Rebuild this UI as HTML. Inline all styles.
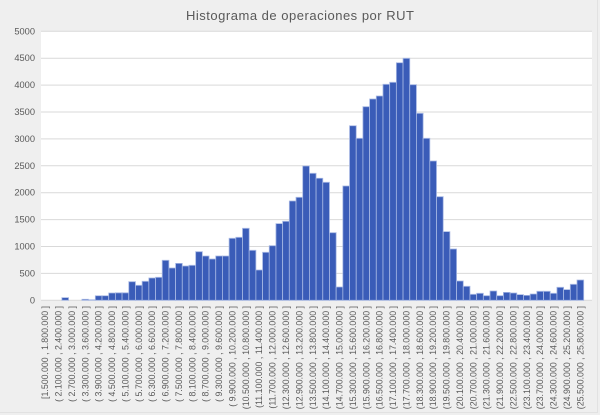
<!DOCTYPE html>
<html>
<head>
<meta charset="utf-8">
<style>
  html,body{margin:0;padding:0;background:#efefef;}
  svg{display:block;}
  .yl{font-family:"Liberation Sans",sans-serif;font-size:9.3px;fill:#595959;text-anchor:end;}
  .xl{font-family:"Liberation Sans",sans-serif;font-size:8.8px;fill:#595959;text-anchor:end;}
  .t{font-family:"Liberation Sans",sans-serif;font-size:13px;fill:#595959;text-anchor:middle;}
</style>
</head>
<body>
<svg width="600" height="415" viewBox="0 0 600 415" xmlns="http://www.w3.org/2000/svg">
  <rect x="0" y="0" width="600" height="415" fill="#efefef"/>
  <line x1="597.5" y1="0" x2="597.5" y2="413" stroke="#e2e2e2" stroke-width="1"/>
  <line x1="0" y1="412.5" x2="598" y2="412.5" stroke="#e2e2e2" stroke-width="1"/>

  <text class="t" x="300" y="20" textLength="228" lengthAdjust="spacing">Histograma de operaciones por RUT</text>

  <!-- plot area -->
  <rect x="41" y="31" width="551" height="269.5" fill="#ffffff"/>

  <!-- gridlines -->
  <g stroke="#d9d9d9" stroke-width="1">
    <line x1="41" y1="31.3" x2="592" y2="31.3"/>
    <line x1="41" y1="58.2" x2="592" y2="58.2"/>
    <line x1="41" y1="85.1" x2="592" y2="85.1"/>
    <line x1="41" y1="112.0" x2="592" y2="112.0"/>
    <line x1="41" y1="138.9" x2="592" y2="138.9"/>
    <line x1="41" y1="165.8" x2="592" y2="165.8"/>
    <line x1="41" y1="192.7" x2="592" y2="192.7"/>
    <line x1="41" y1="219.6" x2="592" y2="219.6"/>
    <line x1="41" y1="246.5" x2="592" y2="246.5"/>
    <line x1="41" y1="273.4" x2="592" y2="273.4"/>
    <line x1="41" y1="300.3" x2="592" y2="300.3"/>
  </g>

  <!-- y labels -->
  <text class="yl" x="35" y="303.3">0</text>
  <text class="yl" x="35" y="276.4">500</text>
  <text class="yl" x="35" y="249.5">1000</text>
  <text class="yl" x="35" y="222.6">1500</text>
  <text class="yl" x="35" y="195.7">2000</text>
  <text class="yl" x="35" y="168.8">2500</text>
  <text class="yl" x="35" y="141.9">3000</text>
  <text class="yl" x="35" y="115.0">3500</text>
  <text class="yl" x="35" y="88.1">4000</text>
  <text class="yl" x="35" y="61.2">4500</text>
  <text class="yl" x="35" y="34.3">5000</text>

  <!-- bars -->
  <g transform="translate(41.8,300.3) scale(6.69,-0.0538)" fill="#3a5cb8" stroke="#a7b8e4" stroke-width="0.8">
    <rect vector-effect="non-scaling-stroke" x="3" y="0" width="1" height="50"/>
    <rect vector-effect="non-scaling-stroke" x="6" y="0" width="1" height="20"/>
    <rect vector-effect="non-scaling-stroke" x="7" y="0" width="1" height="10" fill="#a9bbe6"/>
    <rect vector-effect="non-scaling-stroke" x="8" y="0" width="1" height="85"/>
    <rect vector-effect="non-scaling-stroke" x="9" y="0" width="1" height="85"/>
    <rect vector-effect="non-scaling-stroke" x="10" y="0" width="1" height="136"/>
    <rect vector-effect="non-scaling-stroke" x="11" y="0" width="1" height="139"/>
    <rect vector-effect="non-scaling-stroke" x="12" y="0" width="1" height="139"/>
    <rect vector-effect="non-scaling-stroke" x="13" y="0" width="1" height="346"/>
    <rect vector-effect="non-scaling-stroke" x="14" y="0" width="1" height="279"/>
    <rect vector-effect="non-scaling-stroke" x="15" y="0" width="1" height="353"/>
    <rect vector-effect="non-scaling-stroke" x="16" y="0" width="1" height="415"/>
    <rect vector-effect="non-scaling-stroke" x="17" y="0" width="1" height="427"/>
    <rect vector-effect="non-scaling-stroke" x="18" y="0" width="1" height="743"/>
    <rect vector-effect="non-scaling-stroke" x="19" y="0" width="1" height="600"/>
    <rect vector-effect="non-scaling-stroke" x="20" y="0" width="1" height="687"/>
    <rect vector-effect="non-scaling-stroke" x="21" y="0" width="1" height="637"/>
    <rect vector-effect="non-scaling-stroke" x="22" y="0" width="1" height="650"/>
    <rect vector-effect="non-scaling-stroke" x="23" y="0" width="1" height="904"/>
    <rect vector-effect="non-scaling-stroke" x="24" y="0" width="1" height="823"/>
    <rect vector-effect="non-scaling-stroke" x="25" y="0" width="1" height="767"/>
    <rect vector-effect="non-scaling-stroke" x="26" y="0" width="1" height="823"/>
    <rect vector-effect="non-scaling-stroke" x="27" y="0" width="1" height="823"/>
    <rect vector-effect="non-scaling-stroke" x="28" y="0" width="1" height="1152"/>
    <rect vector-effect="non-scaling-stroke" x="29" y="0" width="1" height="1171"/>
    <rect vector-effect="non-scaling-stroke" x="30" y="0" width="1" height="1338"/>
    <rect vector-effect="non-scaling-stroke" x="31" y="0" width="1" height="929"/>
    <rect vector-effect="non-scaling-stroke" x="32" y="0" width="1" height="563"/>
    <rect vector-effect="non-scaling-stroke" x="33" y="0" width="1" height="892"/>
    <rect vector-effect="non-scaling-stroke" x="34" y="0" width="1" height="1015"/>
    <rect vector-effect="non-scaling-stroke" x="35" y="0" width="1" height="1425"/>
    <rect vector-effect="non-scaling-stroke" x="36" y="0" width="1" height="1468"/>
    <rect vector-effect="non-scaling-stroke" x="37" y="0" width="1" height="1846"/>
    <rect vector-effect="non-scaling-stroke" x="38" y="0" width="1" height="1914"/>
    <rect vector-effect="non-scaling-stroke" x="39" y="0" width="1" height="2496"/>
    <rect vector-effect="non-scaling-stroke" x="40" y="0" width="1" height="2360"/>
    <rect vector-effect="non-scaling-stroke" x="41" y="0" width="1" height="2268"/>
    <rect vector-effect="non-scaling-stroke" x="42" y="0" width="1" height="2193"/>
    <rect vector-effect="non-scaling-stroke" x="43" y="0" width="1" height="1257"/>
    <rect vector-effect="non-scaling-stroke" x="44" y="0" width="1" height="247"/>
    <rect vector-effect="non-scaling-stroke" x="45" y="0" width="1" height="2125"/>
    <rect vector-effect="non-scaling-stroke" x="46" y="0" width="1" height="3245"/>
    <rect vector-effect="non-scaling-stroke" x="47" y="0" width="1" height="3011"/>
    <rect vector-effect="non-scaling-stroke" x="48" y="0" width="1" height="3599"/>
    <rect vector-effect="non-scaling-stroke" x="49" y="0" width="1" height="3742"/>
    <rect vector-effect="non-scaling-stroke" x="50" y="0" width="1" height="3797"/>
    <rect vector-effect="non-scaling-stroke" x="51" y="0" width="1" height="4015"/>
    <rect vector-effect="non-scaling-stroke" x="52" y="0" width="1" height="4052"/>
    <rect vector-effect="non-scaling-stroke" x="53" y="0" width="1" height="4416"/>
    <rect vector-effect="non-scaling-stroke" x="54" y="0" width="1" height="4498"/>
    <rect vector-effect="non-scaling-stroke" x="55" y="0" width="1" height="4008"/>
    <rect vector-effect="non-scaling-stroke" x="56" y="0" width="1" height="3476"/>
    <rect vector-effect="non-scaling-stroke" x="57" y="0" width="1" height="3011"/>
    <rect vector-effect="non-scaling-stroke" x="58" y="0" width="1" height="2589"/>
    <rect vector-effect="non-scaling-stroke" x="59" y="0" width="1" height="1926"/>
    <rect vector-effect="non-scaling-stroke" x="60" y="0" width="1" height="1276"/>
    <rect vector-effect="non-scaling-stroke" x="61" y="0" width="1" height="954"/>
    <rect vector-effect="non-scaling-stroke" x="62" y="0" width="1" height="359"/>
    <rect vector-effect="non-scaling-stroke" x="63" y="0" width="1" height="260"/>
    <rect vector-effect="non-scaling-stroke" x="64" y="0" width="1" height="111"/>
    <rect vector-effect="non-scaling-stroke" x="65" y="0" width="1" height="130"/>
    <rect vector-effect="non-scaling-stroke" x="66" y="0" width="1" height="86"/>
    <rect vector-effect="non-scaling-stroke" x="67" y="0" width="1" height="173"/>
    <rect vector-effect="non-scaling-stroke" x="68" y="0" width="1" height="86"/>
    <rect vector-effect="non-scaling-stroke" x="69" y="0" width="1" height="148"/>
    <rect vector-effect="non-scaling-stroke" x="70" y="0" width="1" height="136"/>
    <rect vector-effect="non-scaling-stroke" x="71" y="0" width="1" height="105"/>
    <rect vector-effect="non-scaling-stroke" x="72" y="0" width="1" height="92"/>
    <rect vector-effect="non-scaling-stroke" x="73" y="0" width="1" height="117"/>
    <rect vector-effect="non-scaling-stroke" x="74" y="0" width="1" height="167"/>
    <rect vector-effect="non-scaling-stroke" x="75" y="0" width="1" height="167"/>
    <rect vector-effect="non-scaling-stroke" x="76" y="0" width="1" height="130"/>
    <rect vector-effect="non-scaling-stroke" x="77" y="0" width="1" height="241"/>
    <rect vector-effect="non-scaling-stroke" x="78" y="0" width="1" height="198"/>
    <rect vector-effect="non-scaling-stroke" x="79" y="0" width="1" height="297"/>
    <rect vector-effect="non-scaling-stroke" x="80" y="0" width="1" height="377"/>
  </g>

  <!-- x labels -->
  <g class="xl">
    <text class="xl" transform="translate(45.15,306) rotate(-90)" dy="3">[1.500.000 , 1.800.000 ]</text>
    <text class="xl" transform="translate(58.53,306) rotate(-90)" dy="3">( 2.100.000 , 2.400.000 ]</text>
    <text class="xl" transform="translate(71.91,306) rotate(-90)" dy="3">( 2.700.000 , 3.000.000 ]</text>
    <text class="xl" transform="translate(85.29,306) rotate(-90)" dy="3">( 3.300.000 , 3.600.000 ]</text>
    <text class="xl" transform="translate(98.67,306) rotate(-90)" dy="3">( 3.900.000 , 4.200.000 ]</text>
    <text class="xl" transform="translate(112.05,306) rotate(-90)" dy="3">( 4.500.000 , 4.800.000 ]</text>
    <text class="xl" transform="translate(125.43,306) rotate(-90)" dy="3">( 5.100.000 , 5.400.000 ]</text>
    <text class="xl" transform="translate(138.81,306) rotate(-90)" dy="3">( 5.700.000 , 6.000.000 ]</text>
    <text class="xl" transform="translate(152.19,306) rotate(-90)" dy="3">( 6.300.000 , 6.600.000 ]</text>
    <text class="xl" transform="translate(165.57,306) rotate(-90)" dy="3">( 6.900.000 , 7.200.000 ]</text>
    <text class="xl" transform="translate(178.95,306) rotate(-90)" dy="3">( 7.500.000 , 7.800.000 ]</text>
    <text class="xl" transform="translate(192.33,306) rotate(-90)" dy="3">( 8.100.000 , 8.400.000 ]</text>
    <text class="xl" transform="translate(205.71,306) rotate(-90)" dy="3">( 8.700.000 , 9.000.000 ]</text>
    <text class="xl" transform="translate(219.09,306) rotate(-90)" dy="3">( 9.300.000 , 9.600.000 ]</text>
    <text class="xl" transform="translate(232.47,306) rotate(-90)" dy="3">( 9.900.000 , 10.200.000 ]</text>
    <text class="xl" transform="translate(245.85,306) rotate(-90)" dy="3">(10.500.000 , 10.800.000 ]</text>
    <text class="xl" transform="translate(259.23,306) rotate(-90)" dy="3">(11.100.000 , 11.400.000 ]</text>
    <text class="xl" transform="translate(272.61,306) rotate(-90)" dy="3">(11.700.000 , 12.000.000 ]</text>
    <text class="xl" transform="translate(285.99,306) rotate(-90)" dy="3">(12.300.000 , 12.600.000 ]</text>
    <text class="xl" transform="translate(299.37,306) rotate(-90)" dy="3">(12.900.000 , 13.200.000 ]</text>
    <text class="xl" transform="translate(312.75,306) rotate(-90)" dy="3">(13.500.000 , 13.800.000 ]</text>
    <text class="xl" transform="translate(326.13,306) rotate(-90)" dy="3">(14.100.000 , 14.400.000 ]</text>
    <text class="xl" transform="translate(339.51,306) rotate(-90)" dy="3">(14.700.000 , 15.000.000 ]</text>
    <text class="xl" transform="translate(352.89,306) rotate(-90)" dy="3">(15.300.000 , 15.600.000 ]</text>
    <text class="xl" transform="translate(366.27,306) rotate(-90)" dy="3">(15.900.000 , 16.200.000 ]</text>
    <text class="xl" transform="translate(379.65,306) rotate(-90)" dy="3">(16.500.000 , 16.800.000 ]</text>
    <text class="xl" transform="translate(393.03,306) rotate(-90)" dy="3">(17.100.000 , 17.400.000 ]</text>
    <text class="xl" transform="translate(406.41,306) rotate(-90)" dy="3">(17.700.000 , 18.000.000 ]</text>
    <text class="xl" transform="translate(419.79,306) rotate(-90)" dy="3">(18.300.000 , 18.600.000 ]</text>
    <text class="xl" transform="translate(433.17,306) rotate(-90)" dy="3">(18.900.000 , 19.200.000 ]</text>
    <text class="xl" transform="translate(446.55,306) rotate(-90)" dy="3">(19.500.000 , 19.800.000 ]</text>
    <text class="xl" transform="translate(459.93,306) rotate(-90)" dy="3">(20.100.000 , 20.400.000 ]</text>
    <text class="xl" transform="translate(473.31,306) rotate(-90)" dy="3">(20.700.000 , 21.000.000 ]</text>
    <text class="xl" transform="translate(486.69,306) rotate(-90)" dy="3">(21.300.000 , 21.600.000 ]</text>
    <text class="xl" transform="translate(500.07,306) rotate(-90)" dy="3">(21.900.000 , 22.200.000 ]</text>
    <text class="xl" transform="translate(513.45,306) rotate(-90)" dy="3">(22.500.000 , 22.800.000 ]</text>
    <text class="xl" transform="translate(526.83,306) rotate(-90)" dy="3">(23.100.000 , 23.400.000 ]</text>
    <text class="xl" transform="translate(540.21,306) rotate(-90)" dy="3">(23.700.000 , 24.000.000 ]</text>
    <text class="xl" transform="translate(553.59,306) rotate(-90)" dy="3">(24.300.000 , 24.600.000 ]</text>
    <text class="xl" transform="translate(566.97,306) rotate(-90)" dy="3">(24.900.000 , 25.200.000 ]</text>
    <text class="xl" transform="translate(580.35,306) rotate(-90)" dy="3">(25.500.000 , 25.800.000 ]</text>
  </g>
</svg>
</body>
</html>
